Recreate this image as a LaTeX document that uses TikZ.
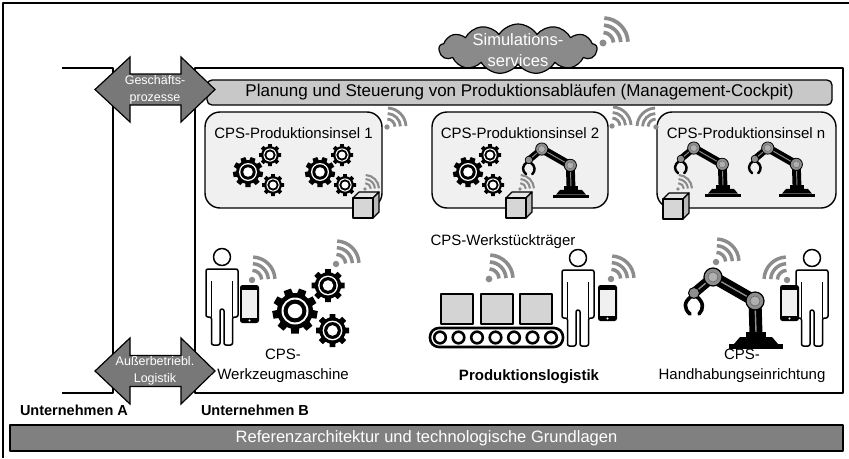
\documentclass[tikz,border=0pt]{standalone}
\usepackage{fontspec}
\setmainfont{Liberation Sans}
\usetikzlibrary{shapes.symbols}

\definecolor{cloudgray}{HTML}{8A8A8A}
\definecolor{arrowgray}{HTML}{787878}
\definecolor{barlight}{HTML}{C8C8C8}
\definecolor{bardark}{HTML}{808080}
\definecolor{islefill}{HTML}{F0F0F0}
\definecolor{wifigray}{HTML}{8C8C8C}
\definecolor{boxgray}{HTML}{D4D4D4}
\definecolor{jointgray}{HTML}{8E8E8E}

\tikzset{
  frameline/.style={line width=1.5pt, black},
  isle/.style={draw, line width=1.4pt, fill=islefill, rounded corners=15pt},
  lbl/.style={font=\fontsize{15}{20}\selectfont, align=center, inner sep=0pt},
  boldlbl/.style={font=\bfseries\fontsize{14.5}{18}\selectfont, align=center, inner sep=0pt},
  arrowtxt/.style={font=\fontsize{12.5}{17}\selectfont, text=white, align=center, inner sep=0pt},
  dblarrow/.style={draw, line width=1.2pt, fill=arrowgray, line join=miter},
  tooth/.style={fill=black},
}

% gear: centre x, y, tip radius, number of teeth
\newcommand\gearicon[4]{%
  \begin{scope}[shift={(#1,#2)}]
    \fill[black] (0,0) circle[radius=0.8*#3];
    \foreach \k in {1,...,#4}{
      \fill[tooth, rotate=\k*360/#4] (-0.23*#3,0) -- (-0.17*#3,#3) -- (0.17*#3,#3) -- (0.23*#3,0) -- cycle;}
    \fill[white] (0,0) circle[radius=0.6*#3];
    \fill[black] (0,0) circle[radius=0.51*#3];
    \fill[white] (0,0) circle[radius=0.32*#3];
  \end{scope}}

% group of three gears: position of the large gear, scale
\newcommand\gearset[3]{%
  \gearicon{#1}{#2}{15*#3}{9}%
  \gearicon{#1+22*#3}{#2-17*#3}{11*#3}{8}%
  \gearicon{#1+25*#3}{#2+13*#3}{11*#3}{8}}

% robot arm: centre of the base foot, scale
\newcommand\robotarm[3]{%
  \begin{scope}[shift={(#1,#2)}, scale=#3]
    \fill[black] (-27,0) rectangle (27,-5);
    \fill[black] (-22,-5) -- (-16,-12) -- (16,-12) -- (22,-5) -- cycle;
    \fill[black] (-10,-12) rectangle (10,-17);
    \draw[line width=13*#3 pt, black] (0,-15) -- (-1,-48);
    \draw[line width=12*#3 pt, black, line cap=round] (-1,-48) -- (-43,-72);
    \draw[line width=10*#3 pt, black, line cap=round] (-43,-72) -- (-62,-56);
    \draw[line width=1.4*#3 pt, jointgray] (0,-17) -- (-1,-48) -- (-43,-72) -- (-62,-56);
    \filldraw[fill=jointgray, draw=black, line width=1.2*#3 pt] (-1,-48) circle[radius=9];
    \filldraw[fill=jointgray!70, draw=black!60, line width=0.6*#3 pt] (-1,-48) circle[radius=5];
    \filldraw[fill=jointgray, draw=black, line width=1.2*#3 pt] (-43,-72) circle[radius=9];
    \filldraw[fill=jointgray!70, draw=black!60, line width=0.6*#3 pt] (-43,-72) circle[radius=5];
    \draw[line width=3.6*#3 pt, black, line cap=round] (-64,-53) .. controls (-73,-47) and (-72,-40) .. (-66,-35);
    \draw[line width=3.6*#3 pt, black, line cap=round] (-60,-53) .. controls (-52,-47) and (-52,-40) .. (-57,-35);
    \filldraw[fill=jointgray, draw=black, line width=1*#3 pt] (-62,-56) circle[radius=5.5];
  \end{scope}}

% person pictogram: centre of the head
\newcommand\personicon[2]{%
  \begin{scope}[shift={(#1,#2)}]
    \draw[fill=white, line width=1.5pt] (0,0) circle[radius=8.5];
    \draw[fill=white, line width=1.5pt, rounded corners=2pt]
      (-16,12) -- (16,12) -- (16,60) -- (10.5,60) -- (10.5,88) -- (2,88) -- (2,52)
      -- (-2,52) -- (-2,88) -- (-10.5,88) -- (-10.5,60) -- (-16,60) -- cycle;
    \draw[line width=1.5pt] (10.5,24) -- (10.5,60) (-10.5,24) -- (-10.5,60);
  \end{scope}}

% smartphone: corners
\newcommand\phoneicon[4]{%
  \fill[black, rounded corners=2.5pt] (#1,#2) rectangle (#3,#4);
  \fill[gray!12] ({#1+1.6},{#2+5}) rectangle ({#3-1.6},{#4-5});
  \fill[white] ({(#1+#3)/2},{#4-2.5}) circle[radius=1.1];}

% radio waves: dot position, outer radius, start angle of the quarter
\newcommand\wifiicon[4]{%
  \begin{scope}[shift={(#1,#2)}, wifigray]
    \fill (0,0) circle[radius=0.14*#3];
    \foreach \f in {0.42,0.71,1.0}
      \draw[line width=0.15*#3 pt] (#4:\f*#3) arc[start angle=#4, delta angle=-84, radius=\f*#3];
  \end{scope}}

% small cube: top-left corner of the front face
\newcommand\cubeicon[2]{%
  \begin{scope}[shift={(#1,#2)}, line width=1.2pt, line join=round]
    \filldraw[fill=gray!20] (0,0) -- (6,-6) -- (26,-6) -- (20,0) -- cycle;
    \filldraw[fill=gray!55] (20,0) -- (26,-6) -- (26,14) -- (20,20) -- cycle;
    \filldraw[fill=gray!32] (0,0) rectangle (20,20);
  \end{scope}}

\begin{document}
\begin{tikzpicture}[x=1pt, y=-1pt, line join=round]
\useasboundingbox (0,0) rectangle (849,458);
\fill[white] (0,0) rectangle (849,458);

% outer frame
\draw[line width=1.3pt] (849,3) -- (3,3) -- (3,458);

% company frames
\draw[frameline] (62,68) -- (113,68) -- (113,393) -- (62,393);
\draw[frameline] (195,68) rectangle (843,393);

% simulation cloud
\node[cloud, cloud puffs=13, cloud puff arc=115, aspect=3.2, draw, line width=1.2pt,
      fill=cloudgray, minimum width=158pt, minimum height=50pt, inner sep=0pt] (cloud) at (518,49) {};
\node[font=\fontsize{16.5}{21}\selectfont, text=white, align=center, inner sep=0pt] (cloudtxt) at (518,50) {Simulations-\\services};
\wifiicon{603}{43}{25}{-3}

% management cockpit bar
\node[draw, line width=1.3pt, fill=barlight, rounded corners=5pt, minimum width=625pt, minimum height=25pt,
      inner sep=0pt, font=\fontsize{17}{20}\selectfont] (cockpit) at (519.5,92.5)
      {Planung und Steuerung von Produktionsabläufen (Management-Cockpit)};

% production islands
\draw[isle] (205,112) rectangle (382,208);
\draw[isle] (432,112) rectangle (608,208);
\draw[isle] (657,112) rectangle (836,208);
\node[lbl] (isle1) at (293.5,133) {CPS-Produktionsinsel 1};
\node[lbl] (isle2) at (520,133) {CPS-Produktionsinsel 2};
\node[lbl] (islen) at (746,133) {CPS-Produktionsinsel n};

\wifiicon{387}{127}{19}{-3}
\wifiicon{612}{126}{19}{-3}
\wifiicon{656}{127}{19}{-93}

\gearset{248}{172}{1}
\gearset{320}{172}{1}
\gearset{468}{172}{1}
\robotarm{571}{198}{0.68}
\robotarm{723}{197}{0.68}
\robotarm{797}{197}{0.68}

\wifiicon{365}{189}{14}{-3}
\wifiicon{520}{189}{14}{-3}
\wifiicon{678}{189}{14}{-3}
\cubeicon{353}{198}
\cubeicon{506}{198}
\cubeicon{663}{199}

% machine tool
\personicon{222}{257}
\phoneicon{240}{285}{259}{323}
\wifiicon{252}{280}{23}{-3}
\gearset{295}{311}{1.5}
\wifiicon{336}{264}{23}{-3}
\node[lbl] (wzm) at (283,366) {CPS-\\Werkzeugmaschine};

% production logistics
\node[lbl] (carrier) at (503,242) {CPS-Werkstückträger};
\wifiicon{489}{279}{24}{-3}
\draw[line width=1.3pt, fill=boxgray] (441,294) rectangle (473,324);
\draw[line width=1.3pt, fill=boxgray] (481,294) rectangle (513,324);
\draw[line width=1.3pt, fill=boxgray] (520,294) rectangle (552,324);
\draw[line width=2.6pt, rounded corners=9pt] (430,328) rectangle (563,347);
\foreach \i in {0,...,6}
  \draw[line width=2.6pt] (440+\i*18.5,337.5) circle[radius=5.8];
\personicon{578}{258}
\phoneicon{598}{285}{617}{321}
\wifiicon{611}{279}{23}{-3}
\node[boldlbl, font=\bfseries\fontsize{15}{18}\selectfont] (logistics) at (529,377) {Produktionslogistik};

% handling device
\robotarm{756}{349}{1}
\wifiicon{716}{262}{23}{-3}
\personicon{812}{258}
\phoneicon{780}{285}{799}{321}
\wifiicon{787}{280}{23}{-93}
\node[lbl] (handling) at (742,366) {CPS-\\Handhabungseinrichtung};

% cross-company arrows
\path[dblarrow] (95,89.5) -- (130,57) -- (130,74) -- (181,74) -- (181,57) -- (215,89.5)
  -- (181,122) -- (181,105) -- (130,105) -- (130,122) -- cycle;
\node[arrowtxt] (bp) at (155,90) {Geschäfts-\\prozesse};
\path[dblarrow] (95,371) -- (130,338) -- (130,355.5) -- (181,355.5) -- (181,338) -- (215,371)
  -- (181,404) -- (181,386.5) -- (130,386.5) -- (130,404) -- cycle;
\node[arrowtxt] (ext) at (155,371) {Außerbetriebl.\\Logistik};

% company labels
\node[boldlbl] (compA) at (74,410) {Unternehmen A};
\node[boldlbl] (compB) at (255,410) {Unternehmen B};

% reference architecture bar
\node[draw, line width=1.3pt, fill=bardark, minimum width=833pt, minimum height=26pt, inner sep=0pt,
      text=white, font=\fontsize{16.5}{20}\selectfont] (base) at (426.5,438)
      {Referenzarchitektur und technologische Grundlagen};
\end{tikzpicture}
\end{document}
